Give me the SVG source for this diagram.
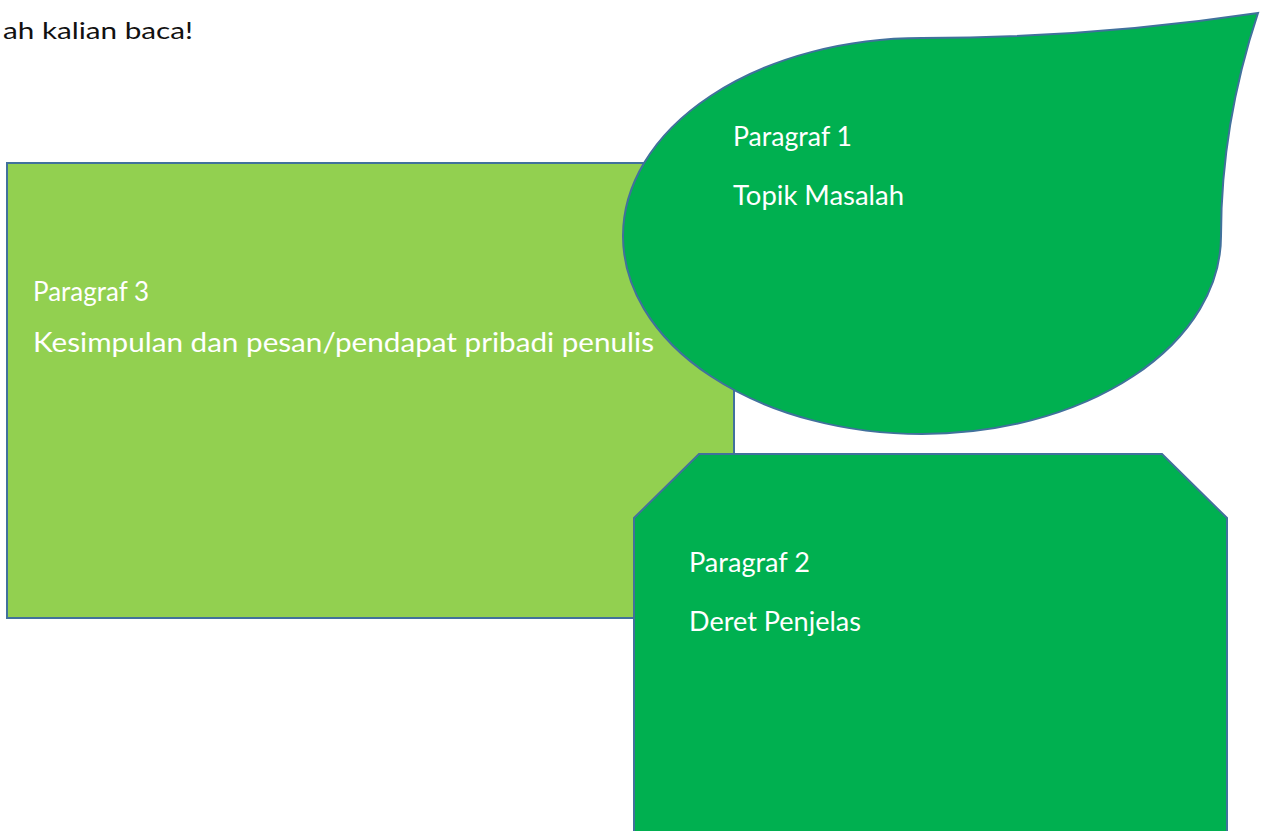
<svg xmlns="http://www.w3.org/2000/svg" width="1262" height="831" viewBox="0 0 1262 831">
<style>
.shape{stroke:#41719C;stroke-width:2;stroke-linejoin:miter}
.light{fill:#92D050}
.dark{fill:#00B050}
.lbl{font-family:Lato,"Open Sans","Liberation Sans",sans-serif;font-size:26px;fill:#FFFFFF}
.body{font-family:Lato,"Open Sans","Liberation Sans",sans-serif;font-size:24px;fill:#111111}
</style>
<rect width="1262" height="831" fill="#FFFFFF"/>
<text class="body" x="3" y="39" textLength="190" lengthAdjust="spacingAndGlyphs">ah kalian baca!</text>
<g id="node-paragraf3">
<rect class="shape light" x="7" y="163" width="727" height="455"/>
<text class="lbl" x="33" y="301" textLength="116" lengthAdjust="spacingAndGlyphs">Paragraf 3</text>
<text class="lbl" x="33" y="352" textLength="621" lengthAdjust="spacingAndGlyphs">Kesimpulan dan pesan/pendapat pribadi penulis</text>
</g>
<g id="node-paragraf1">
<path class="shape dark" d="M623,236 A299,198 0 0 1 922,38 Q1090,38 1258,13 Q1221,124.5 1221,236 A299,198 0 0 1 922,434 A299,198 0 0 1 623,236 Z"/>
<text class="lbl" x="733" y="146" textLength="119" lengthAdjust="spacingAndGlyphs">Paragraf 1</text>
<text class="lbl" x="733" y="205" textLength="171" lengthAdjust="spacingAndGlyphs">Topik Masalah</text>
</g>
<g id="node-paragraf2">
<path class="shape dark" d="M699,454 L1162,454 L1227,518 L1227,900 L634,900 L634,518 Z"/>
<text class="lbl" x="689" y="572" textLength="121" lengthAdjust="spacingAndGlyphs">Paragraf 2</text>
<text class="lbl" x="689" y="631" textLength="172" lengthAdjust="spacingAndGlyphs">Deret Penjelas</text>
</g>
<g id="connectors"/>
</svg>
